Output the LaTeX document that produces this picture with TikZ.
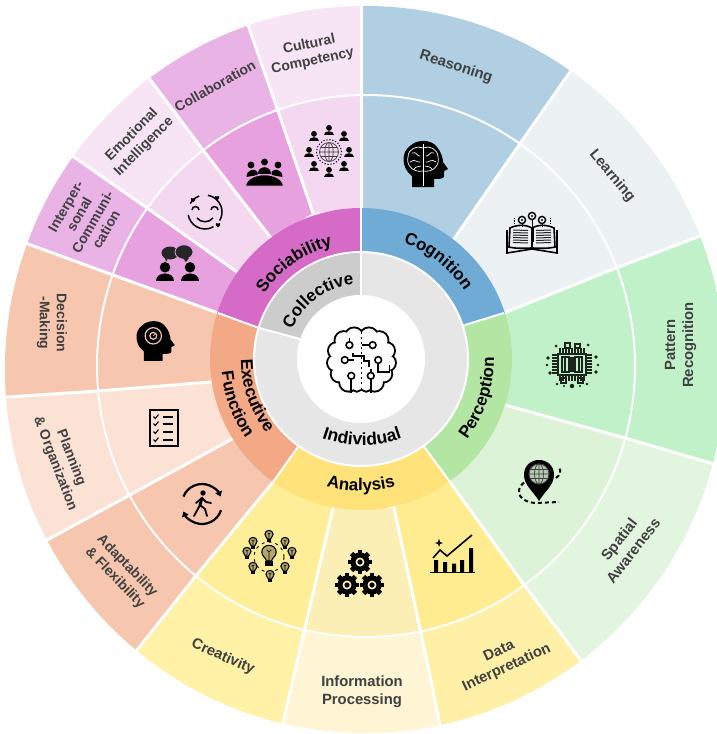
\documentclass[tikz,border=0pt]{standalone}
\usepackage{fontspec}
\setmainfont{Liberation Sans}
\usetikzlibrary{calc,decorations.text,arrows.meta}
\definecolor{reasc}{HTML}{B0CFE2}\definecolor{learnc}{HTML}{ECF1F4}\definecolor{pattc}{HTML}{C1F1C8}
\definecolor{spato}{HTML}{E2F5DE}\definecolor{spati}{HTML}{DCF3D8}
\definecolor{datao}{HTML}{FFF0A8}\definecolor{datai}{HTML}{FFEC90}
\definecolor{infoo}{HTML}{FDF5D3}\definecolor{infoi}{HTML}{FCEFB5}
\definecolor{creao}{HTML}{FFF1A6}\definecolor{creai}{HTML}{FEEE97}
\definecolor{adapc}{HTML}{F6C6AE}\definecolor{planc}{HTML}{FCE2D5}
\definecolor{magdo}{HTML}{EAB3E5}\definecolor{magdi}{HTML}{E6A1DE}
\definecolor{magpo}{HTML}{F7E4F5}\definecolor{magpi}{HTML}{F3D8F0}
\definecolor{socc}{HTML}{D56AC7}\definecolor{cogc}{HTML}{70ABD5}\definecolor{perc}{HTML}{B3E6A3}
\definecolor{anac}{HTML}{FFE27A}\definecolor{exec}{HTML}{F3A985}
\definecolor{gryl}{HTML}{E6E6E6}\definecolor{gryd}{HTML}{CCCCCC}\definecolor{lblc}{HTML}{404040}
\newcommand\catfont{\fontsize{17}{20}\selectfont\bfseries}
\tikzset{
 lab/.style={font=\fontsize{14.8}{18}\selectfont\bfseries,text=lblc,align=center,inner sep=0pt},
 labsm/.style={lab,font=\fontsize{14}{17}\selectfont\bfseries},
 divline/.style={draw=white,line width=3pt,line join=round},
 ringline/.style={draw=white,line width=2pt},
}
\newcommand\icoPerson[3]{\begin{scope}[shift={(#1,#2)},scale=#3]
 \fill (0,1.9) circle[radius=1.75];
 \fill (-3,-2.6) .. controls (-3,0.6) and (3,0.6) .. (3,-2.6) -- cycle;
\end{scope}}
\newcommand\icoHead{%
 \fill (-13,-23) -- (-13,-12) .. controls (-24,-4) and (-24,12) .. (-15,18)
  .. controls (-8,25) and (6,25) .. (12,17) .. controls (16,12) and (18,6) .. (18,2)
  -- (23,-5) -- (19,-7) -- (19,-12) .. controls (19,-15) and (14,-15) .. (9,-15) -- (9,-23) -- cycle;}
\newcommand\icoGear[2]{\begin{scope}[shift={(#1,#2)}]
 \foreach \a in {0,45,...,315}{\fill[rotate=\a] (-2.4,7) rectangle (2.4,12);}
 \draw[line width=5pt] (0,0) circle[radius=7];
 \fill (0,0) circle[radius=2.6];
\end{scope}}
\newcommand\icoBulb[3]{\begin{scope}[shift={(#1,#2)},scale=#3]
 \draw[line width=1.1pt,fill=creai!70!black] (-1.1,-1.6) .. controls (-1.1,-0.4) and (-3,0.2) .. (-3,2) .. controls (-3,5.8) and (3,5.8) .. (3,2) .. controls (3,0.2) and (1.1,-0.4) .. (1.1,-1.6) -- cycle;
 \fill (-1.5,-3.8) rectangle (1.5,-1.6);
 \draw[line width=.6pt] (0,-1.6) -- (0,2.2) (-1,3) -- (0,2.2) -- (1,3);
\end{scope}}
\newcommand\icoHeart[2]{\begin{scope}[shift={(#1,#2)}]
 \fill (0,-2.4) .. controls (-4,0.6) and (-2,3.2) .. (0,1.3) .. controls (2,3.2) and (4,0.6) .. (0,-2.4);
\end{scope}}
\begin{document}
\begin{tikzpicture}[x=1pt,y=1pt]
\useasboundingbox (0,0) rectangle (717,-734);
\clip (0,0) rectangle (717,-734);
\fill[white] (0,0) rectangle (717,-734);
% divider points: inner, middle, outer
\coordinate (i0) at (361,-208); \coordinate (m0) at (361,-95);  \coordinate (o0) at (361,-6);
\coordinate (i1) at (454,-239); \coordinate (m1) at (519,-145); \coordinate (o1) at (570,-72);
\coordinate (i2) at (504,-313); \coordinate (m2) at (616,-268); \coordinate (o2) at (700,-236);
\coordinate (i3) at (505,-405); \coordinate (m3) at (625,-438); \coordinate (o3) at (714,-464);
\coordinate (i4) at (450,-482); \coordinate (m4) at (525,-586); \coordinate (o4) at (580,-659);
\coordinate (i5) at (394,-508); \coordinate (m5) at (421,-633); \coordinate (o5) at (440,-725);
\coordinate (i6) at (333,-508); \coordinate (m6) at (304,-632); \coordinate (o6) at (283,-723);
\coordinate (i7) at (273,-482); \coordinate (m7) at (195,-577); \coordinate (o7) at (137,-650);
\coordinate (i8) at (232,-439); \coordinate (m8) at (128,-496); \coordinate (o8) at (47,-540);
\coordinate (i9) at (211,-382); \coordinate (m9) at (98,-391);  \coordinate (o9) at (7,-397);
\coordinate (i10) at (218,-313); \coordinate (m10) at (113,-275); \coordinate (o10) at (28,-244);
\coordinate (i11) at (237,-272); \coordinate (m11) at (147,-208); \coordinate (o11) at (74,-157);
\coordinate (i12) at (271,-238); \coordinate (m12) at (203,-150); \coordinate (o12) at (149,-78);
\coordinate (i13) at (313,-213); \coordinate (m13) at (277,-108); \coordinate (o13) at (248,-25);
% outer band
\begin{scope}
\clip (365,-369.5) ellipse[x radius=360,y radius=363.5];
\foreach \a/\b/\c in {0/1/reasc,1/2/learnc,2/3/pattc,3/4/spato,4/5/datao,5/6/infoo,6/7/creao,7/8/adapc,8/9/planc,9/10/adapc,10/11/magdo,11/12/magpo,12/13/magdo,13/0/magpo}
 \fill[\c] (m\a) -- ($(m\a)!3!(o\a)$) -- ($(m\b)!3!(o\b)$) -- (m\b) -- cycle;
\end{scope}
% icon band
\begin{scope}
\clip (366,-366) ellipse[x radius=269,y radius=271];
\foreach \a/\b/\c in {0/1/reasc,1/2/learnc,2/3/pattc,3/4/spati,4/5/datai,5/6/infoi,6/7/creai,7/8/adapc,8/9/planc,9/10/adapc,10/11/magdi,11/12/magpi,12/13/magdi,13/0/magpi}
 \fill[\c] (i\a) -- ($(i\a)!3!(m\a)$) -- ($(i\b)!3!(m\b)$) -- (i\b) -- cycle;
\end{scope}
\draw[ringline] (366,-366) ellipse[x radius=269,y radius=271];
\foreach \a in {0,...,13} \draw[divline] (i\a) -- (m\a) -- ($(m\a)!1.06!(o\a)$);
% category band
\coordinate (g0) at (361,-252); \coordinate (g2) at (465,-325); \coordinate (g4) at (425,-448);
\coordinate (g7) at (298,-447); \coordinate (g10) at (259,-328);
\begin{scope}
\clip (361,-359) circle[radius=151];
\foreach \a/\b/\c in {0/2/cogc,2/4/perc,4/7/anac,7/10/exec,10/0/socc}
 \fill[\c] (g\a) -- ($(g\a)!6!(i\a)$) -- ($(g\b)!6!(i\b)$) -- (g\b) -- cycle;
\end{scope}
\foreach \a in {0,2,4,7,10} \draw[ringline] (g\a) -- (i\a);
% grey rings
\filldraw[fill=gryl,draw=white,line width=2pt] (361,-359) circle[radius=107];
\coordinate (h0) at (361,-295); \coordinate (h10) at (300,-339);
\begin{scope}
\clip (361,-359) circle[radius=106];
\fill[gryd] (g10) -- ($(h10)!3!(g10)$) -- (230,-230) -- ($(h0)!2!(g0)$) -- (g0) -- (h0) -- (h10) -- cycle;
\end{scope}
\draw[ringline] (g0) -- (h0);
\draw[ringline] (g10) -- (h10);
\fill[white] (361,-359) circle[radius=64];
% curved labels
\path[decorate,decoration={text along path,text align=center,text={|\catfont|Sociability}}]
 (361,-359) ++(158:117) arc[start angle=158,end angle=92,radius=117];
\path[decorate,decoration={text along path,text align=center,text={|\catfont|Cognition}}]
 (361,-359) ++(86:124) arc[start angle=86,end angle=17.5,radius=124];
\path[decorate,decoration={text along path,text align=center,text={|\catfont|Perception}}]
 (361,-359) ++(-53:133) arc[start angle=-53,end angle=16.4,radius=133];
\path[decorate,decoration={text along path,text align=center,text={|\catfont|Analysis}}]
 (361,-359) ++(240:132) arc[start angle=240,end angle=300,radius=132];
\path[decorate,decoration={text along path,text align=center,text={|\catfont|Executive}}]
 (361,-359) ++(165:120) arc[start angle=165,end angle=233,radius=120];
\path[decorate,decoration={text along path,text align=center,text={|\catfont|Function}}]
 (361,-359) ++(172:140) arc[start angle=172,end angle=228,radius=140];
\path[decorate,decoration={text along path,text align=center,text={|\catfont|Collective}}]
 (361,-359) ++(166:75) arc[start angle=166,end angle=86,radius=75];
\path[decorate,decoration={text along path,text align=center,text={|\fontsize{17.5}{20}\selectfont\bfseries|Individual}}]
 (362,-325) ++(240:120) arc[start angle=240,end angle=300,radius=120];
% outer labels
\node[lab,rotate=-18] (reasoning) at (456,-67) {Reasoning};
\node[lab,rotate=-50] (learning) at (612,-176) {Learning};
\node[lab,rotate=90] (pattern) at (680.5,-345) {Pattern\\Recognition};
\node[lab,rotate=52] (spatial) at (626,-545) {Spatial\\Awareness};
\node[lab,rotate=25] (datainterp) at (503,-660) {Data\\Interpretation};
\node[lab] (infoproc) at (362,-691.5) {Information\\Processing};
\node[lab,rotate=-24] (creativity) at (223,-657) {Creativity};
\node[labsm,rotate=-46] (adaptability) at (121,-572) {Adaptability\\\& Flexibility};
\node[labsm,rotate=-69] (planning) at (63,-461) {Planning\\\& Organization};
\node[labsm,rotate=-90] (decision) at (52,-323) {Decision\\-Making};
\node[labsm,rotate=60,font=\fontsize{14}{15.5}\selectfont\bfseries] (interpersonal) at (86,-218) {Interper-\\sonal\\Communi-\\cation};
\node[labsm,rotate=45] (emotional) at (138,-141) {Emotional\\Intelligence};
\node[labsm,rotate=29] (collaboration) at (215,-86) {Collaboration};
\node[labsm,rotate=12] (cultural) at (311,-53) {Cultural\\Competency};
%%% ICONS
% centre brain
\begin{scope}[shift={(361.5,-360)},scale=.93]
 \foreach \x/\y/\r in {-8/25/9,-19/21/9,-27/10/8,-28/-3/8,-24/-15/8,-14/-24/9,-5/-27/6,8/25/9,19/21/9,27/10/8,28/-3/8,24/-15/8,14/-24/9,5/-27/6}
  \draw[line width=3.8pt] (\x,\y) circle[radius=\r];
 \foreach \x/\y/\r in {-8/25/9,-19/21/9,-27/10/8,-28/-3/8,-24/-15/8,-14/-24/9,-5/-27/6,8/25/9,19/21/9,27/10/8,28/-3/8,24/-15/8,14/-24/9,5/-27/6}
  \fill[white] (\x,\y) circle[radius=\r];
 \fill[white] (0,0) circle[radius=27];
 \draw[line width=1.8pt,dash pattern=on 2pt off 3pt] (0,30) -- (0,-28);
 \draw[line width=1.6pt] (-13,16) circle[radius=3.6] (12,16) circle[radius=3.6] (-18,0) circle[radius=3.6] (18,0) circle[radius=3.6] (-11,-17) circle[radius=3.6] (10,-17) circle[radius=3.6];
 \draw[line width=1.6pt] (-13,19.6) -- (-13,24) (8.4,16) -- (1,16) (-14.4,0) -- (-8,0)
  (-9,8) -- (-9,4) -- (3,4) -- (3,-1) -- (8,-1) -- (8,-8) (18,-3.6) -- (18,-13) -- (30,-13) -- (30,-5)
  (-11,-20.6) -- (-11,-35) (10,-20.6) -- (10,-35) (10,-13.4) -- (10,-10);
\end{scope}
% head with brain
\begin{scope}[shift={(425,-164)}]
 \icoHead
 \draw[white,line width=.7pt] (-2,20) -- (-2,-22);
 \draw[white,line width=.7pt] (-2,16) .. controls (-8,19) and (-17,15) .. (-17,7) .. controls (-19,0) and (-13,-9) .. (-2,-7)
   (-13,11) .. controls (-8,13) and (-8,7) .. (-5,8) (-15,2) .. controls (-10,6) and (-8,1) .. (-5,2) (-11,-5) .. controls (-9,-2) and (-6,-3) .. (-4,-2)
   (-2,16) .. controls (4,19) and (13,15) .. (13,7) .. controls (15,0) and (9,-9) .. (-2,-7)
   (9,11) .. controls (4,13) and (4,7) .. (1,8) (11,2) .. controls (6,6) and (4,1) .. (1,2) (7,-5) .. controls (5,-2) and (2,-3) .. (0,-2);
\end{scope}
% book
\begin{scope}[shift={(532,-233)}]
 \draw[line width=1.6pt] (0,-16) -- (-25,-20) -- (-25,3) (0,-16) -- (25,-20) -- (25,3);
 \draw[line width=1.6pt,fill=learnc] (0,-15) -- (0,5) .. controls (-7,9) and (-16,8) .. (-22,5) -- (-23,-14) .. controls (-15,-16) and (-7,-15) .. (0,-15);
 \draw[line width=1.6pt,fill=learnc] (0,-15) -- (0,5) .. controls (7,9) and (16,8) .. (22,5) -- (23,-14) .. controls (15,-16) and (7,-15) .. (0,-15);
 \foreach \y in {-10,-7.5,...,3.5}{\draw[line width=1pt,black!85] (-19,\y+.5) -- (-4,\y); \draw[line width=1pt,black!85] (19,\y+.5) -- (4,\y);}
 \fill (-1.5,-9) rectangle (1.5,5);
 \draw[line width=1.4pt] (-10,13) circle[radius=3.6] (0,17) circle[radius=3.6] (10,13) circle[radius=3.6];
 \fill (-10,13) circle[radius=1.1] (0,17) circle[radius=1.1] (10,13) circle[radius=1.1];
 \draw[line width=1pt] (-10,9) -- (-10,6) (10,9) -- (10,6) (0,13) -- (0,5);
 \draw[line width=1pt,dash pattern=on 1.2pt off 1.2pt] (-18,15) -- (-18,10) (18,15) -- (18,10);
\end{scope}
% circuit
\begin{scope}[shift={(572,-365)},line width=1.2pt,draw=black!85!pattc]
 \draw (-14,-10) rectangle (14,11) (-10,-7) rectangle (-3,8) (3,-7) rectangle (10,8);
 \foreach \x in {-12,-9,...,12}{\draw (\x,11) -- (\x,17); \draw (\x,-10) -- (\x,-16);}
 \foreach \y in {-8,-5,...,10}{\draw (-14,\y) -- (-20,\y); \draw (14,\y) -- (20,\y);}
 \foreach \x in {-7,-1,1,7}\draw[line width=1.4pt] (\x,-7) -- (\x,8);
 \fill[black!85!pattc] (-24,7) circle[radius=1.8] (-22,-8) circle[radius=1.8] (24,8) circle[radius=1.8] (24,-7) circle[radius=1.8] (-16,19) circle[radius=1.5] (16,20) circle[radius=1.5] (0,-21) circle[radius=2.2] (-15,-19) circle[radius=1.4] (15,-19) circle[radius=1.4] (-25,0) circle[radius=1.4] (26,0) circle[radius=1.4] (-8,-21) circle[radius=1.1] (8,-21) circle[radius=1.1];
 \draw (-7,17) rectangle (-2,22) (3,17) rectangle (8,21) (-11,-18) rectangle (-6,-13) (6,-18) rectangle (11,-13);
\end{scope}
% pin
\begin{scope}[shift={(539,-483)}]
 \fill (0,-18) .. controls (-6,-8) and (-15,-2) .. (-15,8) .. controls (-15,28) and (15,28) .. (15,8) .. controls (15,-2) and (6,-8) .. (0,-18);
 \filldraw[draw=spati!60!black,fill=spati!70!black!60!spati,line width=.6pt] (0,9) circle[radius=10];
 \draw[black!75,line width=.7pt] (0,9) circle[radius=10] (0,9) ellipse[x radius=4.5,y radius=10] (-10,9) -- (10,9) (-9,13.5) -- (9,13.5) (-9,4.5) -- (9,4.5) (0,-1) -- (0,19);
 \draw[line width=2pt,dash pattern=on 4pt off 3pt] (-9,4) .. controls (-25,-3) and (-24,-18) .. (-4,-20) -- (20,-19);
 \draw[line width=2pt,dash pattern=on 4pt off 3pt] (17,5) .. controls (22,8) and (22,13) .. (20,15);
\end{scope}
% chart
\begin{scope}[shift={(430,-573)}]
 \draw[line width=1.6pt] (0,0.5) -- (45,0.5);
 \fill (4,1) rectangle (8,13) (13,1) rectangle (17,11) (22,1) rectangle (26,9.5) (30,1) rectangle (34,13) (39,1) rectangle (43,25);
 \draw[line width=1.6pt] (3,15) -- (10,23) -- (17,17) -- (42,38);
 \fill (9,26) -- (10,29) -- (13,30) -- (10,31) -- (9,34.5) -- (8,31) -- (5,30) -- (8,29) -- cycle;
\end{scope}
% gears
\icoGear{360}{-562}
\icoGear{347}{-585}
\icoGear{372}{-585}
% bulbs
\begin{scope}[shift={(269,-557)}]
 \draw[line width=.9pt,dash pattern=on 3pt off 4pt] (0,0) circle[radius=15];
 \icoBulb{0}{0}{2.4}
 \foreach \x/\y in {0/20,16/13,23/3,16/-12,1/-20,-16/-12,-22/3,-16/13}
  {\icoBulb{\x}{\y}{1.35}}
\end{scope}
% walker
\begin{scope}[shift={(202,-504)}]
 \draw[line width=2.2pt,-{Triangle[length=5pt,width=7pt]}] (158:20) arc[start angle=158,end angle=22,radius=20];
 \draw[line width=2.2pt,-{Triangle[length=5pt,width=7pt]}] (-18:20) arc[start angle=-18,end angle=-158,radius=20];
 \fill (1,11) circle[radius=2.7];
 \draw[line width=2.8pt,line cap=round] (0,6) -- (-2,-1);
 \draw[line width=1.8pt,line cap=round,line join=round] (-2,-1) -- (-8,-12) (-2,-1) -- (3,-5) -- (5,-12) (0,6) -- (-6,1) (0,6) -- (4,2) -- (9,1);
\end{scope}
% checklist
\begin{scope}[shift={(148.5,-447)}]
 \draw[line width=2pt] (1,1) rectangle (29,37);
 \foreach \y in {7,15,23,30}{
  \draw[line width=1.1pt] (5,\y+.5) -- (6.8,\y-1.5) -- (10,\y+2.5);
  \draw[line width=1.3pt] (14,\y) -- (24,\y);}
\end{scope}
% head with target
\begin{scope}[shift={(155,-341)},scale=.86]
 \icoHead
 \draw[adapc,line width=1.2pt] (-2,6) circle[radius=9.5] (-2,6) circle[radius=4];
 \draw[adapc,line width=.8pt] (-2,6) -- (1,9);
\end{scope}
% two people with speech
\begin{scope}[shift={(177,-265)}]
 \fill[black!85] (-7,12) ellipse[x radius=8.5,y radius=6.5];
 \fill[black!85] (-12,7) -- (-9,7) -- (-11,3) -- cycle;
 \fill[black!85,draw=magdi,line width=.8pt] (7,13) ellipse[x radius=9,y radius=7.2];
 \fill[black!85] (6,7) -- (12,7) -- (9,3) -- cycle;
 \icoPerson{-12}{-8}{3}
 \icoPerson{13}{-8}{3}
\end{scope}
% smile
\begin{scope}[shift={(205,-212)}]
 \draw[line width=1.5pt] (80:17) arc[start angle=80,end angle=-30,radius=17];
 \draw[line width=1.5pt] (-60:17) arc[start angle=-60,end angle=-170,radius=17];
 \draw[line width=1.5pt] (150:17) arc[start angle=150,end angle=110,radius=17];
 \draw[line width=1.5pt] (-13,2) arc[start angle=180,end angle=0,radius=3.5];
 \draw[line width=1.5pt] (6,2) arc[start angle=180,end angle=0,radius=3.5];
 \draw[line width=1.5pt] (-8,-6) .. controls (-4,-11) and (4,-11) .. (8,-6);
 \icoHeart{-12}{12}\icoHeart{12}{14}\icoHeart{13}{-13}
\end{scope}
% table
\begin{scope}[shift={(264.5,-172)}]
 \fill (-13.5,7) circle[radius=3.4] (0,10) circle[radius=3.4] (13.5,7) circle[radius=3.4];
 \fill (-18,-5) .. controls (-18,3) and (-9,4) .. (-7,0) -- (-7,-3) -- cycle;
 \fill (18,-5) .. controls (18,3) and (9,4) .. (7,0) -- (7,-3) -- cycle;
 \fill (-6.5,-2) .. controls (-6.5,7) and (6.5,7) .. (6.5,-2) -- cycle;
 \draw[magdi,line width=1pt,fill=black] (-19,-14) .. controls (-17,1) and (17,1) .. (19,-14) -- cycle;
\end{scope}
% globe with people
\begin{scope}[shift={(329,-152)}]
 \foreach \x/\y in {0/21,15/15,-15/15,20/-1,-20/-1,15/-15,-15/-15,0/-21}
  {\icoPerson{\x}{\y}{1.65}}
 \draw[black!75,line width=.7pt] (0,0) circle[radius=9.5] (0,0) ellipse[x radius=4.2,y radius=9.5] (-9.5,0) -- (9.5,0) (-8.4,4.5) -- (8.4,4.5) (-8.4,-4.5) -- (8.4,-4.5) (0,-9.5) -- (0,9.5);
 \draw[black!80!blue,line width=1pt,dash pattern=on 1.2pt off 1.8pt] (0,0) circle[radius=12.5];
\end{scope}
\end{tikzpicture}
\end{document}
